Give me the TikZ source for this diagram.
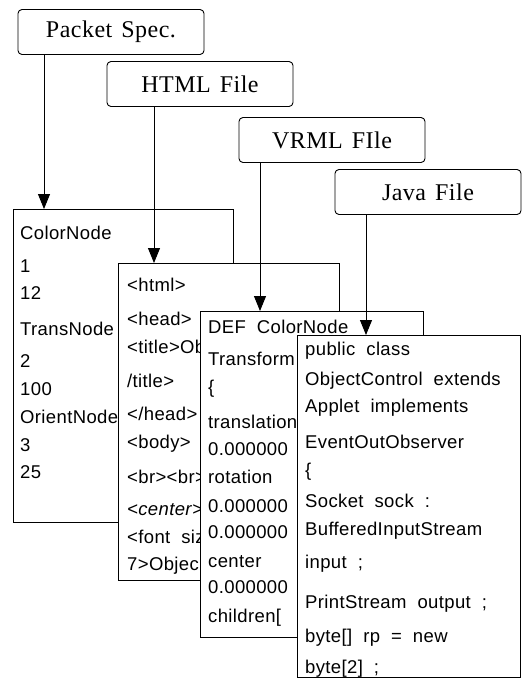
\documentclass[tikz,border=0pt]{standalone}
\usepackage{fontspec}
\newfontfamily\headfont{Liberation Serif}[LetterSpace=2,WordSpace=1.4]
\newfontfamily\boxfont{Liberation Sans}[LetterSpace=2,WordSpace=2]
\usetikzlibrary{arrows.meta}
\begin{document}
\begin{tikzpicture}[x=1pt,y=-1pt,
  head/.style={draw,rounded corners=4pt,line width=0.9pt,minimum width=186pt,minimum height=45pt,inner sep=0pt,font=\headfont\fontsize{24}{28}\selectfont,fill=white},
  page/.style={draw,line width=1pt,fill=white,anchor=north west,inner sep=0pt},
  txt/.style={anchor=base west,inner sep=0pt,font=\boxfont\fontsize{18.5}{22}\selectfont},
  arr/.style={line width=0.9pt,-{Triangle[length=15pt,width=12pt]}}]
\useasboundingbox (0,0) rectangle (524,686);
% top labels
\node[head] (ps) at (111,32) {Packet Spec.};
\node[head] (hf) at (200,84) {HTML File};
\node[head] (vf) at (332,140) {VRML FIle};
\node[head] (jf) at (428,192) {Java File};
% page 1
\node[page,minimum width=220pt,minimum height=313pt] (b1) at (13,209) {};
\foreach \t/\y [count=\i] in {{ColorNode}/239,{1}/272,{12}/299,{TransNode}/335,{2}/367,{100}/395,{OrientNode}/423,{3}/451,{25}/478}
  \node[txt] (ta\i) at (20,\y) {\t};
% page 2
\node[page,minimum width=221pt,minimum height=317pt] (b2) at (118,263) {};
\foreach \t/\y [count=\i] in {{<html>}/291,{<head>}/325,{<title>Ob}/353,{/title>}/387,{</head>}/420,{<body>}/448,{<br><br>}/483,{\itshape <center>}/515,{<font siz}/543,{7>Objec}/570}
  \node[txt] (tb\i) at (127,\y) {\t};
% page 3
\node[page,minimum width=223pt,minimum height=326pt] (b3) at (200,311) {};
\foreach \t/\y [count=\i] in {{DEF ColorNode}/333,{Transform}/365,{\{}/393,{translation}/428,{0.000000}/455,{rotation}/483,{0.000000}/512,{0.000000}/538,{center}/567,{0.000000}/593,{children[}/622}
  \node[txt] (tc\i) at (208,\y) {\t};
% page 4
\node[page,minimum width=223pt,minimum height=342pt] (b4) at (297,335) {};
\begin{scope}
\clip (b4.north west) rectangle (b4.south east);
\foreach \t/\y [count=\i] in {{public class}/355,{ObjectControl extends}/385,{Applet implements}/412,{EventOutObserver}/448,{\{}/476,{Socket sock :}/507,{BufferedInputStream}/535,{input ;}/568,{PrintStream output ;}/608,{byte[] rp = new}/642,{byte[2] ;}/673}
  \node[txt] (td\i) at (305,\y) {\t};
\end{scope}
% arrows
\coordinate (xa) at (44,0);
\coordinate (xb) at (154,0);
\coordinate (xc) at (260,0);
\coordinate (xd) at (366,0);
\draw[arr] (ps.south -| xa) -- (b1.north -| xa);
\draw[arr] (hf.south -| xb) -- (b2.north -| xb);
\draw[arr] (vf.south -| xc) -- (b3.north -| xc);
\draw[arr] (jf.south -| xd) -- (b4.north -| xd);
\end{tikzpicture}
\end{document}
